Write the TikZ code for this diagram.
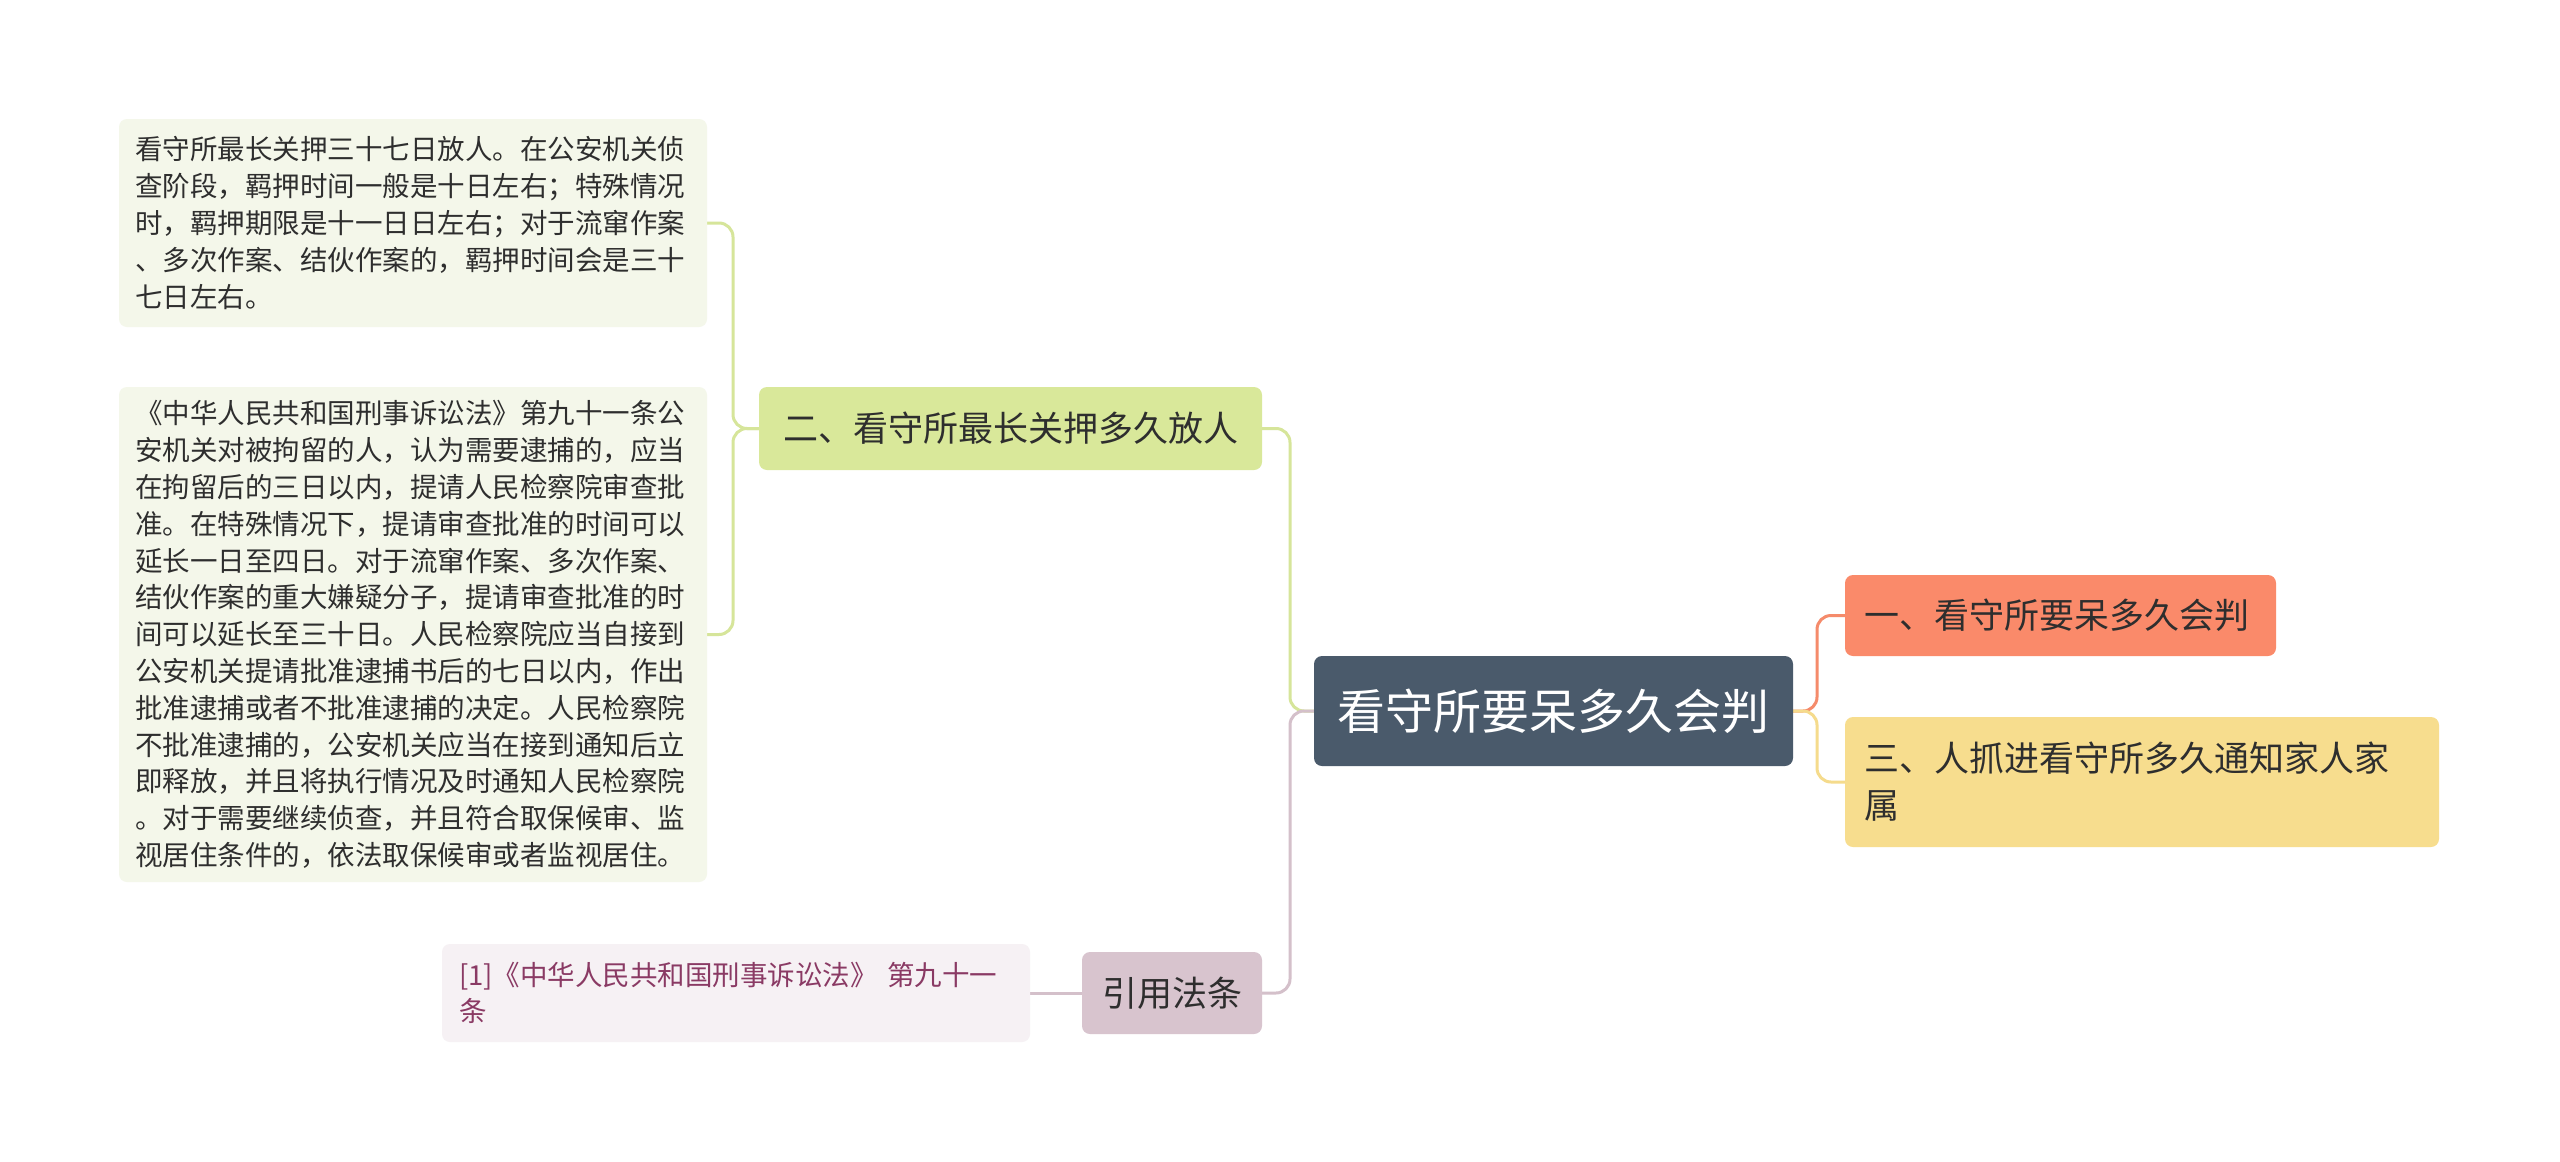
\documentclass[tikz,border=0pt]{standalone}
\usepackage{fontspec}
\setmainfont{Noto Sans CJK SC}
\usetikzlibrary{backgrounds}
\definecolor{rootc}{HTML}{4A5A6B}
\definecolor{onec}{HTML}{FA8A6A}
\definecolor{threec}{HTML}{F7DD8E}
\definecolor{twoc}{HTML}{D9E89A}
\definecolor{leafc}{HTML}{F4F7EA}
\definecolor{refc}{HTML}{D8C4CE}
\definecolor{citec}{HTML}{F6F1F4}
\definecolor{citetxt}{HTML}{8A3A64}
\definecolor{txt}{HTML}{2E2E2E}
\definecolor{lgreen}{HTML}{D6E59A}
\definecolor{lmauve}{HTML}{D4C0CA}
\definecolor{lsalmon}{HTML}{F58B6B}
\definecolor{lyellow}{HTML}{F5DB8C}
\begin{document}
\begin{tikzpicture}[x=1pt,y=-1pt,
  box/.style={rounded corners=8pt, anchor=north west, inner ysep=0pt, outer sep=0pt, text=txt},
  leaf/.style={box, fill=leafc, inner xsep=16pt, align=left, font=\fontsize{27.5}{36.8}\selectfont},
  big/.style={font=\fontsize{35}{47}\selectfont},
  conn/.style={line width=3pt, rounded corners=14pt}]
\useasboundingbox (0,0) rectangle (2560,1162);

\node[box, fill=rootc, text=white, inner xsep=16pt, align=center, text width=447pt, minimum height=110pt, font=\fontsize{48}{58}\selectfont] (root) at (1314,656) {看守所要呆多久会判};

\node[box, big, fill=onec, inner xsep=19pt, align=left, text width=393pt, minimum height=81pt] (n1) at (1845,575) {一、看守所要呆多久会判};

\node[box, big, fill=threec, inner xsep=19pt, align=left, text width=556pt, minimum height=130pt] (n3) at (1845,717) {三、人抓进看守所多久通知家人家\\属};

\node[box, big, fill=twoc, inner xsep=16pt, align=center, text width=471pt, minimum height=83pt] (n2) at (759,387) {二、看守所最长关押多久放人};

\node[box, big, fill=refc, inner xsep=16pt, align=center, text width=148pt, minimum height=82pt] (ref) at (1082,952) {引用法条};

\node[leaf, text width=556pt, minimum height=208pt] (l1) at (119,119) {看守所最长关押三十七日放人。在公安机关侦\\查阶段，羁押时间一般是十日左右；特殊情况\\时，羁押期限是十一日日左右；对于流窜作案\\、多次作案、结伙作案的，羁押时间会是三十\\七日左右。};

\node[leaf, text width=556pt, minimum height=495pt] (l2) at (119,387) {《中华人民共和国刑事诉讼法》第九十一条公\\安机关对被拘留的人，认为需要逮捕的，应当\\在拘留后的三日以内，提请人民检察院审查批\\准。在特殊情况下，提请审查批准的时间可以\\延长一日至四日。对于流窜作案、多次作案、\\结伙作案的重大嫌疑分子，提请审查批准的时\\间可以延长至三十日。人民检察院应当自接到\\公安机关提请批准逮捕书后的七日以内，作出\\批准逮捕或者不批准逮捕的决定。人民检察院\\不批准逮捕的，公安机关应当在接到通知后立\\即释放，并且将执行情况及时通知人民检察院\\。对于需要继续侦查，并且符合取保候审、监\\视居住条件的，依法取保候审或者监视居住。};

\node[leaf, fill=citec, text=citetxt, inner xsep=17pt, text width=554pt, minimum height=98pt] (cite) at (442,944) {[1]《中华人民共和国刑事诉讼法》 第九十一\\条};

\begin{scope}[on background layer]
\fill[white] (0,0) rectangle (2560,1162);
\coordinate (rj) at ([xshift=24pt]root.east);
\coordinate (lj) at ([xshift=-24pt]root.west);
\coordinate (tj) at ([xshift=-26pt]n2.west);
\draw[conn, lsalmon] (root.east) -- (rj) |- (n1.west);
\draw[conn, lyellow] (root.east) -- (rj) |- (n3.west);
\draw[conn, lgreen] (n2.east) -| (lj) -- (root.west);
\draw[conn, lmauve] (ref.east) -| (lj) -- (root.west);
\draw[conn, lgreen] (n2.west) -- (tj) |- (l1.east);
\draw[conn, lgreen] (n2.west) -- (tj) |- (l2.east);
\draw[conn, lmauve] (ref.west) -- (cite.east);
\end{scope}
\end{tikzpicture}
\end{document}
